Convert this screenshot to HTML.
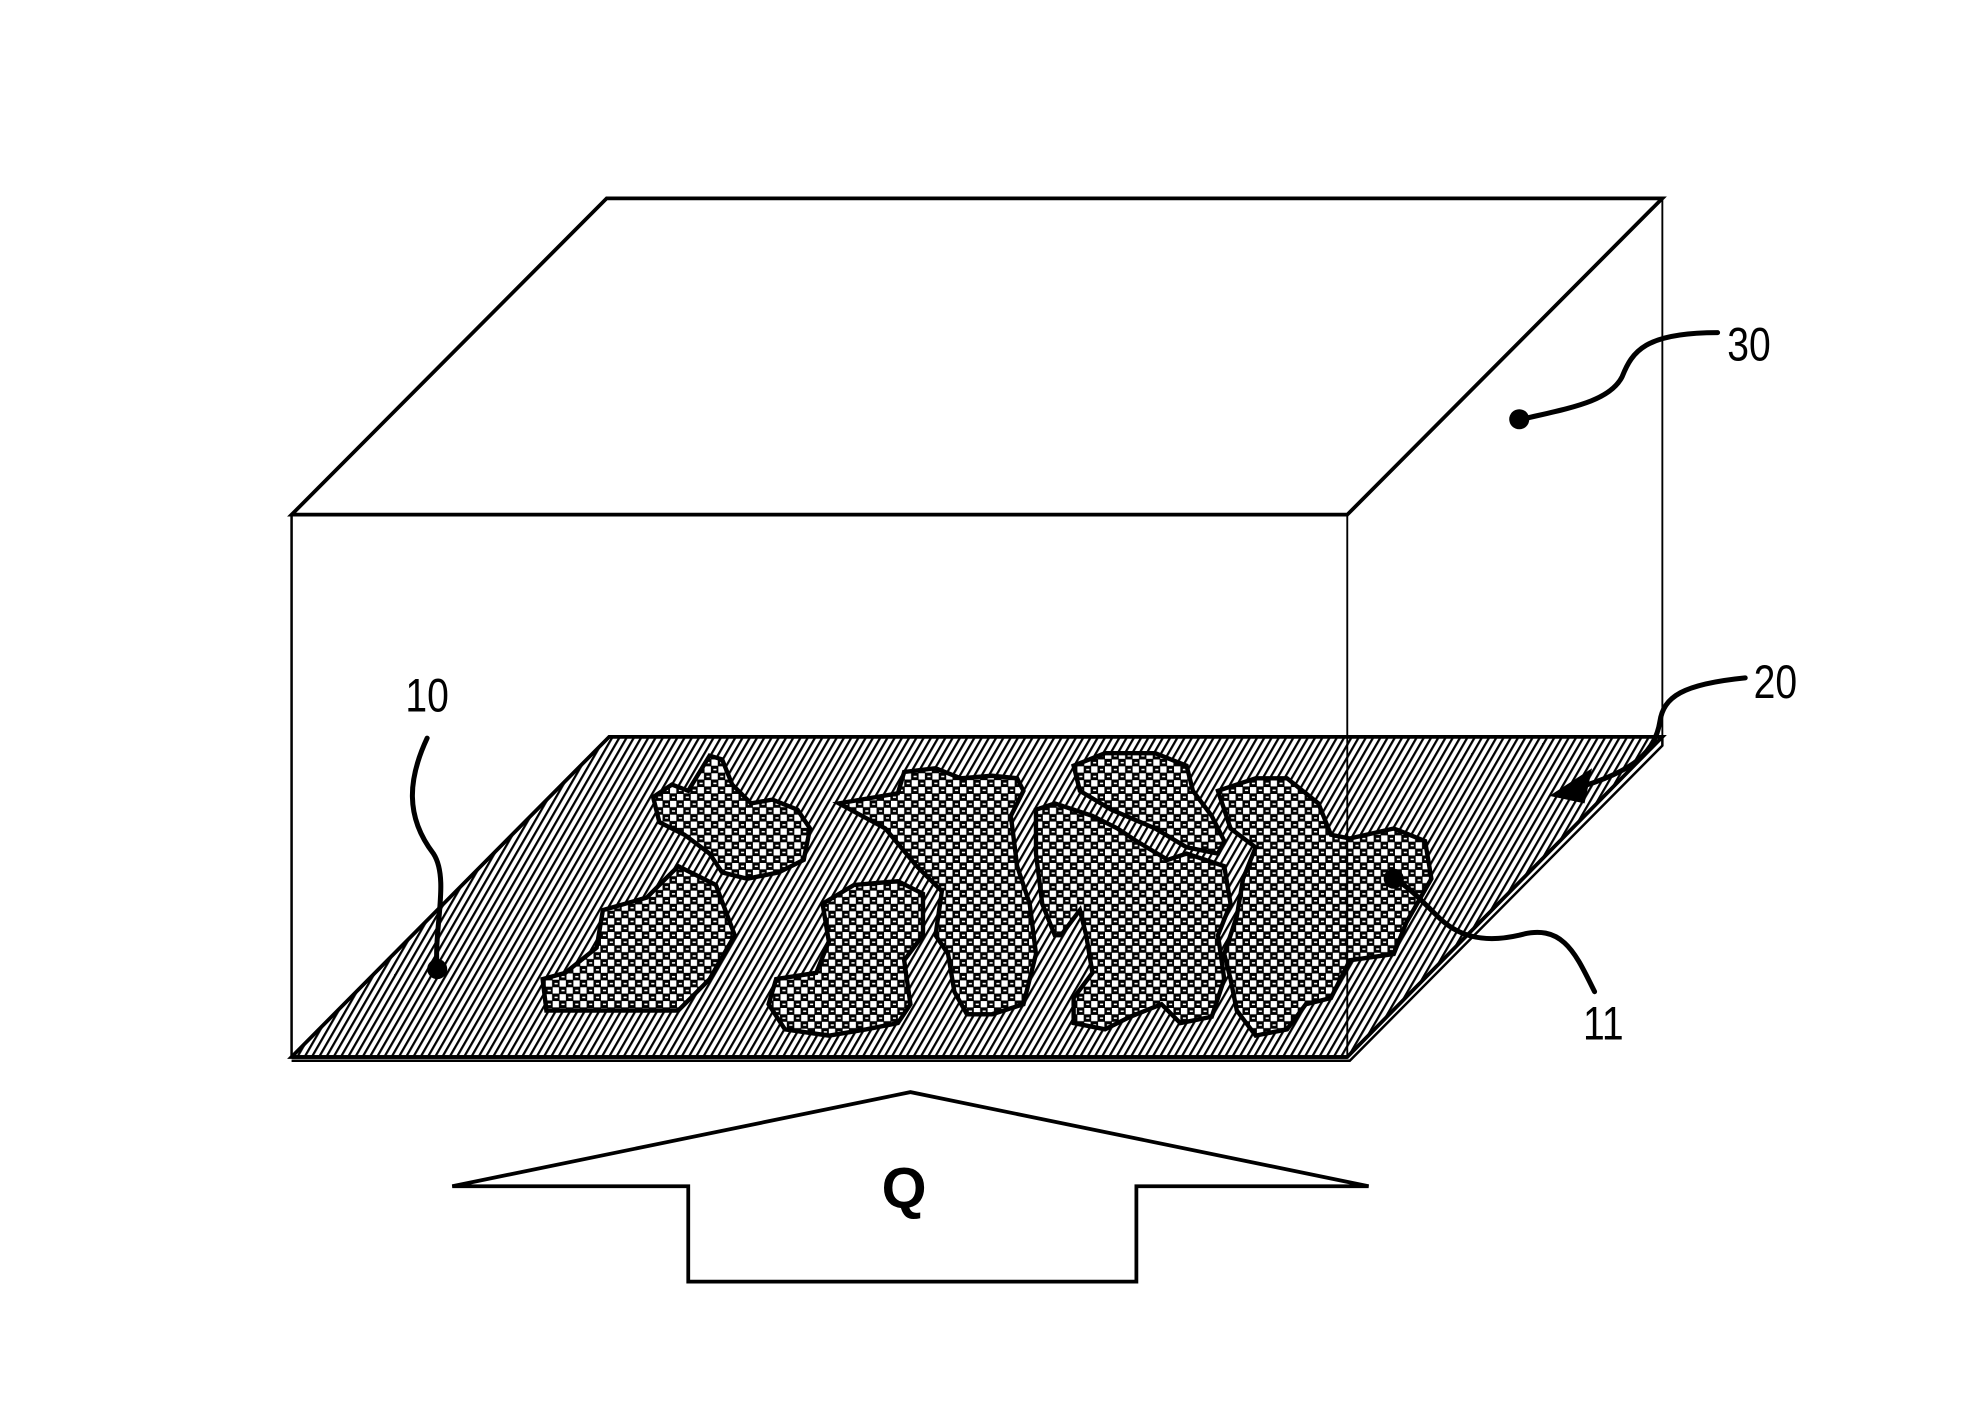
<!DOCTYPE html>
<html><head><style>html,body{margin:0;padding:0;background:#fff;}svg{display:block}</style></head>
<body>
<svg width="1969" height="1426" viewBox="0 0 1568 1136" xmlns="http://www.w3.org/2000/svg">
<defs>
<pattern id="hatch" width="5" height="5" patternUnits="userSpaceOnUse" patternTransform="rotate(30)">
<rect width="5" height="5" fill="#fff"/><rect width="1.8" height="5" fill="#000"/>
</pattern>
<pattern id="chk" width="11" height="11" patternUnits="userSpaceOnUse">
<rect width="11" height="11" fill="#000"/>
<rect x="5.5" y="0" width="5" height="5" fill="#fff"/><rect x="0" y="5.5" width="5" height="5" fill="#fff"/>
<rect x="1.5" y="2" width="2.5" height="1.2" fill="#fff"/><rect x="7" y="7.5" width="2.5" height="1.2" fill="#fff"/>
</pattern>
</defs>
<g fill="none" stroke="#000" stroke-linejoin="miter">
<polygon points="485,587 1324,587 1073,842 232,842" fill="url(#hatch)" stroke-width="3"/>
<polyline points="1324,587 1324,594 1075,845 232,845" stroke-width="2"/>
<g fill="url(#chk)" stroke-width="3.5">
<polygon points="520,635 535,625 548,630 565,602 575,605 583,625 598,640 615,637 635,645 645,660 640,685 620,695 595,700 575,695 565,680 545,665 525,655"/>
<polygon points="432,780 435,805 540,805 565,780 585,745 570,705 540,690 515,715 480,725 475,755 450,775"/>
<polygon points="655,720 680,705 715,702 735,712 735,745 720,765 725,800 715,815 690,820 660,825 625,820 612,800 618,780 650,775 660,750"/>
<polygon points="668,640 715,632 720,615 745,612 765,620 790,618 810,620 815,630 805,650 810,690 820,720 825,760 815,800 790,808 770,808 760,790 755,760 745,745 750,710 730,690 705,660"/>
<polygon points="855,610 880,600 920,600 945,610 950,630 965,650 975,670 970,680 945,675 920,660 885,645 860,630"/>
<polygon points="825,645 840,640 870,650 890,660 905,670 930,685 945,680 975,690 980,720 970,745 975,780 965,810 940,815 925,800 900,810 880,820 855,815 855,795 870,775 865,745 860,725 845,745 840,745 830,720 825,680"/>
<polygon points="970,630 1000,620 1025,620 1050,640 1060,665 1075,668 1110,660 1135,670 1140,700 1120,735 1110,760 1075,765 1060,795 1040,800 1025,820 1000,825 985,805 980,780 975,760 985,730 990,700 1000,675 980,660"/>
</g>
<polygon points="483,158 1324,158 1073,410 232,410" stroke-width="3"/>
<line x1="232" y1="410" x2="232" y2="842" stroke-width="2"/>
<line x1="1073" y1="410" x2="1073" y2="842" stroke-width="1.5"/>
<line x1="1324" y1="158" x2="1324" y2="587" stroke-width="1.5"/>
<line x1="232" y1="842" x2="1073" y2="842" stroke-width="3"/>
<polygon points="360,945 725,870 1090,945 905,945 905,1021 548,1021 548,945" stroke-width="3"/>
<g stroke-width="4" stroke-linecap="round">
<path d="M1368,265 C1310,265 1300,280 1292,300 C1282,320 1250,325 1212,334"/>
<path d="M1390,540 C1340,545 1325,555 1322,575 C1318,600 1300,615 1255,628"/>
<path d="M340,588 C325,620 322,650 345,680 C358,700 345,740 348,772"/>
<path d="M1270,790 C1255,760 1245,735 1210,745 C1180,752 1160,745 1145,730 C1130,715 1120,705 1110,700"/>
</g>
</g>
<g fill="#000">
<circle cx="1210" cy="334" r="8"/>
<circle cx="348" cy="772" r="8"/>
<circle cx="1110" cy="700" r="8"/>
<polygon points="1234,634 1268,612 1262,640"/>
</g>
<g font-family="Liberation Sans, sans-serif" font-size="38" fill="#000">
<text x="1393" y="287" text-anchor="middle" transform="translate(1393,0) scale(0.82,1) translate(-1393,0)">30</text>
<text x="1414" y="556" text-anchor="middle" transform="translate(1414,0) scale(0.82,1) translate(-1414,0)">20</text>
<text x="340" y="567" text-anchor="middle" transform="translate(340,0) scale(0.82,1) translate(-340,0)">10</text>
<text x="1277" y="828" text-anchor="middle" transform="translate(1277,0) scale(0.82,1) translate(-1277,0)">11</text>
<text x="720" y="962" text-anchor="middle" font-weight="bold" font-size="46">Q</text>
</g>
</svg>
</body></html>
